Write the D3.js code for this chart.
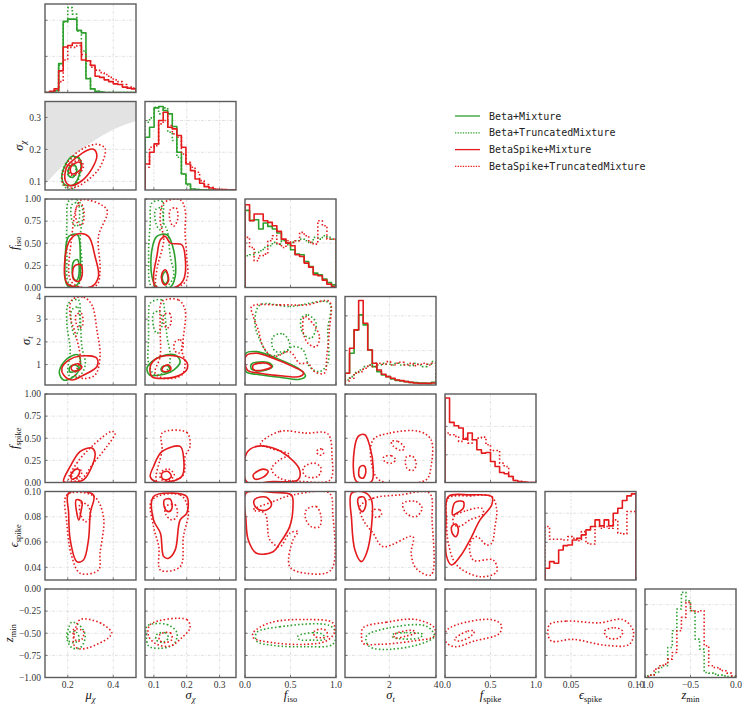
<!DOCTYPE html>
<html>
<head>
<meta charset="utf-8">
<script src="https://cdn.jsdelivr.net/npm/d3@7"></script>
<style>
  body { margin: 0; background: #fff; }
  svg text { font-family: "Liberation Serif", "DejaVu Serif", serif; }
  svg text.mono { font-family: "DejaVu Sans Mono", "Liberation Mono", monospace; }
</style>
</head>
<body>
<svg id="chart" width="747" height="708"></svg>
<script>
// ---- series ----
const seriesKeys = ['BM', 'BTM', 'BSM', 'BSTM'];
const seriesLabels = ['Beta+Mixture', 'Beta+TruncatedMixture', 'BetaSpike+Mixture', 'BetaSpike+TruncatedMixture'];
const GREEN = '#2ca02c', RED = '#e41a1c';
const seriesColor = { BM: GREEN, BTM: GREEN, BSM: RED, BSTM: RED };
const seriesDotted = { BM: false, BTM: true, BSM: false, BSTM: true };

// ---- parameters (axis domains / ticks) ----
const varDomains = [[0.1, 0.5], [0.073, 0.35], [0, 1], [0.1, 4], [0, 1], [0.03, 0.1], [-1, 0]];
const xTicks = [[0.2, 0.4], [0.1, 0.2, 0.3], [0, 0.5, 1], [2, 4], [0, 0.5, 1], [0.05, 0.1], [-1, -0.5, 0]];
const xTickLabels = [['0.2', '0.4'], ['0.1', '0.2', '0.3'], ['0.0', '0.5', '1.0'], ['2', '4'],
  ['0.0', '0.5', '1.0'], ['0.05', '0.10'], ['−1.0', '−0.5', '0.0']];
const yTicks = [[], [0.1, 0.2, 0.3], [0, 0.25, 0.5, 0.75, 1], [1, 2, 3, 4], [0, 0.25, 0.5, 0.75, 1],
  [0.04, 0.06, 0.08, 0.1], [-1, -0.75, -0.5, -0.25, 0]];
const yTickLabels = [[], ['0.1', '0.2', '0.3'], ['0.00', '0.25', '0.50', '0.75', '1.00'], ['1', '2', '3', '4'],
  ['0.00', '0.25', '0.50', '0.75', '1.00'], ['0.04', '0.06', '0.08', '0.10'],
  ['−1.00', '−0.75', '−0.50', '−0.25', '0.00']];
// label: main symbol, subscript, subscript italic?
const varLabels = [['μ', 'χ', true], ['σ', 'χ', true], ['f', 'iso', false], ['σ', 't', true],
  ['f', 'spike', false], ['ϵ', 'spike', false], ['z', 'min', false]];

// ---- histogram heights (20 bins across each domain) ----
const histMax = [2.45, 2.65, 2.65, 2.65, 2.65, 2.65, 2.65];
const diagTicks = [[1, 2], [1.13, 2.08], [1.33], [1.03, 2.07], [0.83, 1.68], [1.13, 2.0], [0.68, 1.45, 2.18]];

const hMu_BM   = [0, 0.02, 0.05, 0.8, 1.97, 2.03, 2.03, 1.72, 1.65, 0.38, 0.1, 0.03, 0.01, 0, 0, 0, 0, 0, 0, 0];
const hMu_BTM  = [0, 0.02, 0.05, 0.75, 1.95, 2.35, 2.17, 1.7, 1.15, 0.4, 0.1, 0.03, 0.01, 0, 0, 0, 0, 0, 0, 0];
const hMu_BSM  = [0, 0.03, 0.1, 0.6, 1.26, 1.3, 1.37, 1.37, 0.9, 0.88, 0.75, 0.45, 0.42, 0.35, 0.3, 0.24, 0.22, 0.15, 0.12, 0.1];
const hMu_BSTM = [0, 0.02, 0.05, 0.3, 0.9, 1.25, 1.25, 1.3, 1.05, 0.88, 0.7, 0.62, 0.55, 0.5, 0.42, 0.35, 0.3, 0.22, 0.15, 0.12];

const hSig_BM   = [1.58, 1.88, 2.46, 2.5, 2.38, 2.28, 1.9, 1.13, 0.48, 0.18, 0.03, 0.01, 0, 0, 0, 0, 0, 0, 0, 0];
const hSig_BTM  = [2.03, 2.16, 2.48, 2.28, 2.46, 1.73, 1.48, 0.98, 0.48, 0.15, 0.03, 0.01, 0, 0, 0, 0, 0, 0, 0, 0];
const hSig_BSM  = [0.78, 1.13, 1.38, 2.08, 2.33, 1.88, 1.83, 1.63, 1.28, 0.78, 0.58, 0.33, 0.2, 0.1, 0.06, 0.02, 0.01, 0.01, 0, 0];
const hSig_BSTM = [0.68, 1.28, 1.33, 1.98, 2.08, 1.93, 1.68, 1.58, 1.08, 0.83, 0.68, 0.53, 0.28, 0.16, 0.08, 0.03, 0.01, 0, 0, 0];

const hIso_BM   = [2.31, 2.01, 2.03, 1.75, 1.93, 1.83, 1.75, 1.63, 1.43, 1.33, 1.13, 1.0, 0.98, 0.78, 0.63, 0.43, 0.38, 0.25, 0.15, 0.08];
const hIso_BTM  = [0.95, 0.98, 1.05, 1.1, 1.2, 1.25, 1.35, 1.3, 1.4, 1.28, 1.35, 1.4, 1.45, 1.4, 1.35, 1.5, 1.45, 1.55, 1.5, 1.45];
const hIso_BSM  = [2.48, 2.0, 2.2, 2.2, 2.0, 1.95, 1.85, 1.68, 1.45, 1.33, 1.25, 0.98, 0.93, 0.73, 0.61, 0.38, 0.35, 0.22, 0.1, 0.03];
const hIso_BSTM = [1.5, 1.2, 0.8, 0.95, 1.0, 1.4, 1.55, 1.3, 1.2, 1.4, 1.35, 1.4, 1.65, 1.55, 1.35, 1.3, 2.0, 1.85, 1.45, 1.45];

const hSt_BM   = [0.35, 0.95, 1.65, 2.1, 1.8, 1.05, 0.55, 0.4, 0.3, 0.25, 0.18, 0.14, 0.12, 0.1, 0.08, 0.07, 0.06, 0.06, 0.05, 0.08];
const hSt_BTM  = [0.15, 0.25, 0.37, 0.45, 0.55, 0.6, 0.65, 0.6, 0.65, 0.62, 0.6, 0.65, 0.6, 0.62, 0.58, 0.65, 0.6, 0.55, 0.62, 0.7];
const hSt_BSM  = [0.35, 1.1, 1.65, 2.53, 1.85, 1.05, 0.65, 0.45, 0.32, 0.25, 0.2, 0.15, 0.13, 0.1, 0.08, 0.06, 0.05, 0.05, 0.05, 0.06];
const hSt_BSTM = [0.12, 0.2, 0.35, 0.4, 0.5, 0.6, 0.55, 0.65, 0.62, 0.7, 0.6, 0.65, 0.68, 0.6, 0.65, 0.58, 0.62, 0.65, 0.6, 0.65];

const hFs_BSM  = [2.53, 1.8, 1.7, 1.63, 1.3, 1.48, 1.28, 0.98, 0.88, 0.9, 0.63, 0.48, 0.3, 0.26, 0.18, 0.06, 0.03, 0.01, 0, 0];
const hFs_BSTM = [1.48, 1.43, 1.38, 1.23, 1.33, 1.18, 1.28, 1.33, 1.36, 1.13, 0.96, 0.96, 0.58, 0.48, 0.18, 0.06, 0.03, 0.01, 0, 0];

const hEs_BSM  = [0.35, 0.55, 0.5, 0.9, 1.03, 1.05, 1.2, 1.25, 1.35, 1.5, 1.6, 1.8, 1.62, 1.8, 1.62, 2.0, 2.15, 2.38, 2.52, 2.58];
const hEs_BSTM = [1.6, 1.22, 1.22, 1.22, 1.2, 1.3, 1.25, 1.18, 1.45, 1.1, 1.08, 1.6, 1.55, 1.6, 1.55, 1.8, 1.4, 1.38, 2.05, 2.05];

const hZ_BTM  = [0.05, 0.07, 0.15, 0.3, 0.35, 0.9, 1.4, 2.05, 2.55, 2.3, 2.0, 1.15, 0.85, 0.15, 0.13, 0.1, 0.07, 0.05, 0.03, 0.02];
const hZ_BSTM = [0.03, 0.07, 0.25, 0.35, 0.4, 0.55, 0.75, 1.4, 1.8, 2.25, 2.0, 1.97, 2.0, 0.95, 0.35, 0.3, 0.25, 0.2, 0.13, 0.05];

const histData = [
  { BM: hMu_BM, BTM: hMu_BTM, BSM: hMu_BSM, BSTM: hMu_BSTM },
  { BM: hSig_BM, BTM: hSig_BTM, BSM: hSig_BSM, BSTM: hSig_BSTM },
  { BM: hIso_BM, BTM: hIso_BTM, BSM: hIso_BSM, BSTM: hIso_BSTM },
  { BM: hSt_BM, BTM: hSt_BTM, BSM: hSt_BSM, BSTM: hSt_BSTM },
  { BSM: hFs_BSM, BSTM: hFs_BSTM },
  { BSM: hEs_BSM, BSTM: hEs_BSTM },
  { BTM: hZ_BTM, BSTM: hZ_BSTM }
];

// ---- excluded region in (mu_chi, sigma_chi) ----
const shadeMu    = [0.1, 0.15, 0.2, 0.25, 0.3, 0.35, 0.4, 0.45, 0.5];
const shadeSigma = [0.090, 0.129, 0.163, 0.194, 0.220, 0.243, 0.262, 0.277, 0.289];

// ---- credible contours: [series, [[x, y], ...]] ----
const c10 = [
  ['BM', [[.218,.178],[.255,.168],[.252,.124],[.226,.090],[.189,.089],[.174,.113],[.189,.150]]],
  ['BM', [[.208,.145],[.228,.153],[.240,.134],[.223,.113],[.204,.118]]],
  ['BTM', [[.196,.160],[.247,.176],[.255,.124],[.218,.076],[.182,.086],[.174,.123]]],
  ['BTM', [[.204,.140],[.226,.150],[.237,.129],[.214,.113],[.200,.122]]],
  ['BSM', [[.313,.2005],[.328,.182],[.306,.139],[.262,.102],[.211,.087],[.189,.103],[.196,.145],[.240,.176],[.284,.197]]],
  ['BSM', [[.218,.150],[.252,.160],[.262,.145],[.243,.129],[.218,.124],[.211,.136]]],
  ['BSTM', [[.328,.216],[.364,.203],[.342,.145],[.284,.102],[.218,.079],[.179,.094],[.182,.134],[.218,.176],[.269,.203]]],
  ['BSTM', [[.214,.155],[.255,.166],[.269,.145],[.247,.124],[.211,.121],[.204,.139]]]
];
const c20 = [
  ['BM', [[.204,.577],[.243,.596],[.255,.351],[.247,.049],[.218,.005],[.196,.03],[.189,.351]]],
  ['BM', [[.226,.294],[.243,.313],[.249,.143],[.237,.079],[.222,.125]]],
  ['BTM', [[.204,.974],[.240,.992],[.266,.879],[.255,.577],[.262,.162],[.240,.011],[.204,.049],[.196,.351],[.196,.728]]],
  ['BTM', [[.218,.936],[.243,.955],[.252,.804],[.240,.691],[.222,.728]]],
  ['BSM', [[.247,.608],[.291,.577],[.320,.351],[.335,.125],[.306,.011],[.240,.004],[.196,.049],[.189,.351],[.211,.540]]],
  ['BSM', [[.228,.238],[.258,.257],[.262,.125],[.247,.068],[.225,.094]]],
  ['BSTM', [[.262,.992],[.372,.879],[.335,.577],[.342,.2],[.328,.03],[.255,.004],[.211,.087],[.218,.577],[.240,.917]]],
  ['BSTM', [[.237,.898],[.262,.936],[.272,.804],[.262,.709],[.243,.728]]]
];
const c30 = [
  ['BM', [[.174,.98],[.211,1.35],[.247,1.42],[.255,.91],[.226,.47],[.182,.32],[.163,.62]]],
  ['BM', [[.211,.91],[.234,.98],[.249,.84],[.230,.69],[.208,.69]]],
  ['BTM', [[.204,3.71],[.247,3.85],[.255,3.12],[.262,1.79],[.277,.98],[.247,.47],[.204,.54],[.211,1.65],[.196,2.82]]],
  ['BTM', [[.218,3.41],[.243,3.53],[.252,2.82],[.233,2.23],[.218,2.67]]],
  ['BSM', [[.204,1.20],[.255,1.38],[.328,1.28],[.328,.91],[.270,.54],[.218,.32],[.182,.54],[.174,.84]]],
  ['BSM', [[.218,.94],[.247,1.03],[.262,.88],[.243,.73],[.218,.76]]],
  ['BSTM', [[.218,3.85],[.270,3.97],[.306,3.63],[.328,2.53],[.342,1.35],[.320,.54],[.270,.39],[.233,.54],[.255,1.2],[.233,2.38],[.211,3.12]]],
  ['BSTM', [[.237,3.19],[.259,3.26],[.266,2.75],[.252,2.6],[.237,2.82]]]
];
const c40 = [
  ['BSM', [[.182,.011],[.211,.181],[.255,.351],[.306,.389],[.320,.332],[.306,.181],[.269,.030],[.218,.003]]],
  ['BSM', [[.214,.087],[.237,.151],[.252,.136],[.243,.068],[.218,.038]]],
  ['BSTM', [[.204,.030],[.240,.219],[.306,.408],[.393,.577],[.408,.558],[.372,.408],[.313,.219],[.255,.030]]],
  ['BSTM', [[.218,.087],[.240,.162],[.262,.125],[.247,.049],[.222,.038]]]
];
const c50 = [
  ['BSM', [[.204,.0987],[.313,.0973],[.299,.0828],[.291,.0617],[.269,.0458],[.240,.0445],[.211,.0617],[.204,.0828]]],
  ['BSM', [[.237,.0934],[.262,.0920],[.258,.0841],[.249,.0775],[.240,.0828]]],
  ['BSTM', [[.196,.0973],[.313,.0965],[.357,.0802],[.342,.0511],[.335,.0379],[.255,.0353],[.218,.0485],[.196,.0749]]],
  ['BSTM', [[.255,.0907],[.287,.0894],[.299,.0789],[.277,.0762],[.255,.0828]]]
];
const c60 = [
  ['BTM', [[.218,-.375],[.255,-.419],[.277,-.532],[.255,-.663],[.218,-.663],[.196,-.551],[.204,-.438]]],
  ['BTM', [[.204,-.494],[.237,-.487],[.250,-.569],[.228,-.607],[.204,-.588]]],
  ['BSTM', [[.255,-.345],[.342,-.382],[.393,-.494],[.379,-.551],[.291,-.663],[.247,-.674],[.226,-.625],[.233,-.457]]],
  ['BSTM', [[.226,-.457],[.269,-.476],[.262,-.569],[.240,-.588],[.226,-.532]]]
];
const c21 = [
  ['BM', [[.109,.577],[.140,.596],[.160,.426],[.165,.125],[.150,.004],[.109,.004],[.094,.125],[.094,.426]]],
  ['BM', [[.127,.143],[.137,.181],[.143,.087],[.135,.042],[.127,.079]]],
  ['BTM', [[.094,.955],[.125,.974],[.130,.728],[.140,.653],[.150,.351],[.160,.125],[.135,.004],[.094,.004],[.084,.351],[.089,.728]]],
  ['BTM', [[.105,.879],[.122,.898],[.128,.728],[.118,.653],[.106,.728]]],
  ['BSM', [[.120,.540],[.135,.577],[.150,.502],[.185,.483],[.195,.351],[.190,.087],[.165,.004],[.104,.011],[.099,.125],[.109,.351]]],
  ['BSM', [[.125,.162],[.135,.2],[.145,.087],[.135,.030],[.125,.068]]],
  ['BSTM', [[.130,.955],[.180,.992],[.195,.879],[.195,.615],[.200,.351],[.200,.087],[.170,.004],[.109,.011],[.109,.2],[.130,.540],[.119,.766]]],
  ['BSTM', [[.150,.879],[.168,.898],[.172,.766],[.160,.691],[.150,.747]]]
];
const c31 = [
  ['BM', [[.094,1.13],[.119,1.35],[.165,1.42],[.180,1.13],[.160,.76],[.119,.54],[.087,.54],[.079,.84]]],
  ['BM', [[.124,.88],[.142,.95],[.148,.76],[.135,.67],[.123,.73]]],
  ['BTM', [[.089,3.71],[.124,3.85],[.134,3.12],[.140,2.23],[.150,1.35],[.140,.76],[.104,.54],[.084,1.06],[.084,2.23],[.084,3.12]]],
  ['BTM', [[.099,3.26],[.117,3.34],[.124,2.67],[.109,2.38],[.099,2.67]]],
  ['BSM', [[.089,.91],[.109,1.28],[.150,1.40],[.195,1.20],[.202,.84],[.180,.54],[.130,.39],[.094,.47]]],
  ['BSM', [[.129,.91],[.145,.98],[.152,.81],[.140,.69],[.125,.73]]],
  ['BSTM', [[.125,3.78],[.175,3.85],[.195,3.41],[.190,2.23],[.185,1.65],[.195,1.06],[.185,.54],[.135,.39],[.104,.62],[.119,1.35],[.119,2.82]]],
  ['BSTM', [[.130,3.19],[.148,3.26],[.152,2.82],[.140,2.6],[.130,2.82]]],
  ['BSTM', [[.165,2.01],[.180,2.09],[.190,1.87],[.175,1.5],[.162,1.65]]]
];
const c41 = [
  ['BSM', [[.099,.181],[.125,.351],[.180,.408],[.190,.294],[.185,.068],[.150,.011],[.104,.011],[.089,.068]]],
  ['BSM', [[.125,.106],[.143,.125],[.153,.068],[.138,.030],[.125,.049]]],
  ['BSTM', [[.125,.558],[.200,.566],[.210,.408],[.195,.294],[.190,.087],[.150,.011],[.109,.011],[.125,.370]]],
  ['BSTM', [[.120,.113],[.145,.151],[.162,.087],[.145,.023],[.122,.038]]]
];
const c51 = [
  ['BSM', [[.099,.096],[.160,.0987],[.200,.096],[.200,.0828],[.180,.0775],[.165,.0538],[.145,.0472],[.130,.0485],[.120,.0670],[.099,.0775]]],
  ['BSM', [[.132,.0934],[.150,.0939],[.155,.0868],[.145,.0841],[.133,.0868]]],
  ['BSTM', [[.094,.0934],[.180,.0973],[.205,.0854],[.190,.0643],[.180,.0406],[.120,.0379],[.115,.0564],[.099,.0722]]],
  ['BSTM', [[.135,.0881],[.165,.0894],[.170,.0802],[.155,.0775],[.137,.0815]]]
];
const c61 = [
  ['BTM', [[.079,-.419],[.140,-.401],[.170,-.494],[.160,-.625],[.119,-.670],[.084,-.644],[.077,-.532]]],
  ['BTM', [[.109,-.513],[.134,-.494],[.144,-.551],[.129,-.599],[.107,-.577]]],
  ['BSTM', [[.089,-.401],[.200,-.345],[.210,-.438],[.185,-.551],[.150,-.644],[.109,-.625],[.084,-.532]]],
  ['BSTM', [[.119,-.513],[.150,-.494],[.155,-.569],[.135,-.607],[.117,-.577]]]
];
const c32 = [
  ['BM', [[.011,1.50],[.127,1.57],[.345,1.28],[.582,.84],[.665,.50],[.6,.35],[.382,.44],[.127,.57],[.011,.69]]],
  ['BM', [[.073,1.03],[.255,1.09],[.302,.91],[.2,.73],[.073,.79]]],
  ['BTM', [[.164,3.63],[.491,3.56],[.927,3.71],[.909,2.53],[.909,1.06],[.818,.69],[.709,.91],[.636,1.65],[.527,1.79],[.418,1.50],[.273,1.42],[.164,2.09],[.109,2.82]]],
  ['BTM', [[.309,2.23],[.418,2.35],[.491,1.94],[.473,1.65],[.345,1.57],[.3,1.79]]],
  ['BTM', [[.618,3.04],[.691,3.19],[.782,2.82],[.727,2.16],[.636,2.38]]],
  ['BSM', [[.011,1.38],[.127,1.50],[.309,1.28],[.527,.91],[.644,.64],[.6,.47],[.418,.50],[.164,.62],[.025,.76]]],
  ['BSM', [[.091,.98],[.236,1.06],[.291,.91],[.2,.76],[.091,.79]]],
  ['BSTM', [[.073,3.56],[.382,3.63],[.673,3.63],[.927,3.78],[.927,2.53],[.898,1.35],[.873,.62],[.764,.69],[.691,1.06],[.6,1.06],[.491,1.57],[.309,1.35],[.2,1.79],[.145,2.53],[.091,3.12]]],
  ['BSTM', [[.655,3.12],[.727,2.9],[.818,2.23],[.782,1.79],[.691,1.94],[.636,2.53]]]
];
const c42 = [
  ['BSM', [[.018,.332],[.127,.408],[.309,.389],[.473,.294],[.6,.143],[.582,.030],[.309,.011],[.018,.011]]],
  ['BSM', [[.091,.087],[.2,.151],[.255,.125],[.2,.060],[.109,.038]]],
  ['BSTM', [[.171,.438],[.382,.577],[.673,.558],[.909,.551],[.956,.294],[.935,.030],[.636,.011],[.382,.049],[.291,.151],[.382,.257],[.491,.313],[.273,.389]]],
  ['BSTM', [[.8,.370],[.847,.377],[.862,.325],[.818,.309],[.789,.340]]],
  ['BSTM', [[.655,.181],[.764,.219],[.836,.162],[.8,.068],[.673,.068],[.636,.125]]]
];
const c52 = [
  ['BSM', [[.011,.0987],[.309,.0992],[.509,.0973],[.527,.0881],[.491,.0722],[.382,.0590],[.309,.0524],[.127,.0511],[.036,.0617],[.011,.0775]]],
  ['BSM', [[.109,.0939],[.236,.0955],[.291,.0894],[.236,.0854],[.145,.0860],[.098,.0902]]],
  ['BSTM', [[.091,.0854],[.309,.0920],[.527,.0973],[.927,.0987],[.964,.0828],[.945,.0379],[.673,.0353],[.491,.0406],[.527,.0617],[.582,.0683],[.491,.0670],[.382,.0564],[.273,.0617],[.218,.0828]]],
  ['BSTM', [[.673,.0854],[.782,.0881],[.836,.0802],[.818,.0722],[.727,.0722],[.665,.0789]]]
];
const c62 = [
  ['BTM', [[.127,-.494],[.382,-.427],[.927,-.412],[.995,-.494],[.964,-.625],[.673,-.652],[.309,-.637],[.127,-.588]]],
  ['BTM', [[.582,-.532],[.745,-.494],[.855,-.513],[.873,-.569],[.745,-.577],[.593,-.569]]],
  ['BSTM', [[.091,-.494],[.273,-.382],[.673,-.345],[.964,-.382],[.982,-.494],[.891,-.588],[.673,-.625],[.309,-.607],[.091,-.551]]],
  ['BSTM', [[.764,-.476],[.873,-.457],[.909,-.532],[.836,-.551],[.764,-.532]]]
];
const c43 = [
  ['BSM', [[.667,.521],[.951,.540],[1.164,.408],[1.305,.181],[1.234,.011],[.596,.011],[.455,.181]]],
  ['BSM', [[.738,.174],[.908,.189],[.993,.125],[.880,.049],[.710,.068]]],
  ['BSTM', [[1.305,.483],[2.014,.558],[3.29,.577],[3.787,.483],[3.787,.181],[3.574,.030],[1.589,.023],[1.234,.219]]],
  ['BSTM', [[2.085,.464],[2.368,.464],[2.652,.389],[2.51,.362],[2.156,.415]]],
  ['BSTM', [[1.759,.287],[2.085,.302],[2.27,.257],[2.085,.219],[1.8,.238]]],
  ['BSTM', [[2.723,.287],[3.007,.294],[3.149,.2],[3.007,.136],[2.752,.162]]]
];
const c53 = [
  ['BSM', [[.384,.0987],[.951,.0992],[1.234,.0934],[1.234,.0722],[1.022,.0511],[.809,.0445],[.525,.0538],[.384,.0775]]],
  ['BSM', [[.667,.0947],[.908,.0955],[.993,.0894],[.851,.0841],[.71,.0868]]],
  ['BSTM', [[.738,.0881],[1.305,.0947],[2.44,.0973],[3.716,.0987],[3.83,.0775],[3.787,.0340],[3.149,.0392],[2.936,.0511],[3.007,.0643],[1.73,.0564],[1.305,.0670],[.88,.0775]]],
  ['BSTM', [[2.58,.0907],[3.149,.0920],[3.404,.0868],[3.149,.0802],[2.723,.0828]]],
  ['BSTM', [[1.305,.0854],[1.589,.0854],[1.66,.0815],[1.447,.0796],[1.276,.0815]]]
];
const c63 = [
  ['BTM', [[1.022,-.532],[2.014,-.438],[3.574,-.419],[3.929,-.532],[3.29,-.625],[1.589,-.682],[1.093,-.637]]],
  ['BTM', [[2.156,-.513],[2.723,-.494],[3.433,-.513],[3.29,-.551],[2.44,-.562],[2.127,-.539]]],
  ['BSTM', [[.88,-.438],[1.873,-.375],[3.149,-.345],[3.929,-.438],[3.929,-.532],[3.007,-.588],[1.589,-.625],[.88,-.614],[.809,-.532]]],
  ['BSTM', [[2.227,-.513],[3.007,-.468],[3.12,-.494],[2.723,-.532],[2.227,-.551]]]
];
const c54 = [
  ['BSM', [[.037,.096],[.275,.0973],[.513,.096],[.513,.0894],[.385,.0775],[.275,.0617],[.165,.0485],[.073,.0419],[.018,.0485],[.011,.0775]]],
  ['BSM', [[.110,.0913],[.201,.0920],[.201,.0868],[.128,.0828],[.084,.0815]]],
  ['BSM', [[.073,.0722],[.121,.0743],[.147,.0696],[.121,.0643],[.084,.0664]]],
  ['BSTM', [[.037,.0947],[.275,.0965],[.513,.096],[.568,.0854],[.549,.0722],[.513,.0590],[.458,.0577],[.348,.0643],[.275,.0590],[.311,.0458],[.531,.0458],[.568,.0366],[.385,.0326],[.128,.0419],[.037,.0590],[.018,.0775]]],
  ['BSTM', [[.099,.0802],[.238,.0849],[.403,.0868],[.421,.0823],[.275,.0775],[.147,.0722],[.092,.0749]]]
];
const c64 = [
  ['BSTM', [[.011,-.476],[.139,-.401],[.505,-.345],[.615,-.401],[.6,-.5],[.322,-.588],[.103,-.652],[.003,-.588]]],
  ['BSTM', [[.103,-.569],[.249,-.476],[.322,-.476],[.286,-.532],[.157,-.588]]]
];
const c65 = [
  ['BSTM', [[.0336,-.401],[.0464,-.363],[.0719,-.382],[.0898,-.345],[.098,-.476],[.0949,-.625],[.0770,-.637],[.0515,-.569],[.0349,-.588],[.0324,-.513]]],
  ['BSTM', [[.0757,-.476],[.0834,-.438],[.0898,-.476],[.0872,-.551],[.0783,-.551]]]
];
const contourData = { '10': c10, '20': c20, '30': c30, '40': c40, '50': c50, '60': c60,
  '21': c21, '31': c31, '41': c41, '51': c51, '61': c61,
  '32': c32, '42': c42, '52': c52, '62': c62,
  '43': c43, '53': c53, '63': c63, '54': c54, '64': c64, '65': c65 };

// ---- layout ----
const PW = 91, PH = 88.5;
const colX = j => 45 + j * 100;
const rowY = i => 4 + i * 97.5;
const NB = 20;
const TICK_FONT = 9.5;

const svg = d3.select('#chart');
const defs = svg.append('defs');

function styleSeries(sel, key) {
  sel.attr('fill', 'none')
    .attr('stroke', seriesColor[key])
    .attr('stroke-width', 1.6)
    .attr('stroke-linejoin', 'round')
    .attr('stroke-dasharray', seriesDotted[key] ? '1.5,2.2' : null);
}

function addLabel(textSel, idx, mainSize, subSize) {
  const [m, s, sIt] = varLabels[idx];
  textSel.append('tspan').attr('font-style', 'italic').attr('font-size', mainSize).text(m);
  textSel.append('tspan').attr('font-style', sIt ? 'italic' : 'normal')
    .attr('font-size', subSize).attr('dy', 2.5).text(s);
}

const tickLabelWidth = [];

for (let i = 0; i < 7; i++) {
  for (let j = 0; j <= i; j++) {
    const x0 = colX(j), y0 = rowY(i);
    const x = d3.scaleLinear().domain(varDomains[j]).range([x0, x0 + PW]);
    const y = d3.scaleLinear().domain(i === j ? [0, histMax[i]] : varDomains[i]).range([y0 + PH, y0]);
    const g = svg.append('g');
    const cid = `clip${i}${j}`;
    defs.append('clipPath').attr('id', cid).append('rect')
      .attr('x', x0).attr('y', y0).attr('width', PW).attr('height', PH);

    // grid
    const gy = i === j ? diagTicks[i] : yTicks[i];
    g.selectAll('.gx').data(xTicks[j]).join('line')
      .attr('x1', d => x(d)).attr('x2', d => x(d)).attr('y1', y0).attr('y2', y0 + PH)
      .attr('stroke', '#d4d4d4').attr('stroke-width', 0.7).attr('stroke-dasharray', '3,1.5,1,1.5');
    g.selectAll('.gy').data(gy).join('line')
      .attr('y1', d => y(d)).attr('y2', d => y(d)).attr('x1', x0).attr('x2', x0 + PW)
      .attr('stroke', '#d4d4d4').attr('stroke-width', 0.7).attr('stroke-dasharray', '3,1.5,1,1.5');

    const body = g.append('g').attr('clip-path', `url(#${cid})`);

    if (i === 1 && j === 0) {
      const pts = shadeMu.map((m, k) => [m, shadeSigma[k]]);
      pts.push([varDomains[0][1], varDomains[1][1]], [varDomains[0][0], varDomains[1][1]]);
      body.append('path')
        .attr('d', d3.line().x(d => x(d[0])).y(d => y(d[1]))(pts) + 'Z')
        .attr('fill', '#e3e3e3');
    }

    if (i === j) {
      const dom = varDomains[i];
      const edges = d3.range(NB + 1).map(k => dom[0] + k * (dom[1] - dom[0]) / NB);
      seriesKeys.forEach(key => {
        const vals = histData[i][key];
        if (!vals) return;
        const pts = [[edges[0], 0]];
        vals.forEach((v, k) => { pts.push([edges[k], v], [edges[k + 1], v]); });
        pts.push([edges[NB], 0]);
        body.append('path')
          .attr('d', d3.line().x(d => x(d[0])).y(d => y(d[1]))(pts))
          .call(styleSeries, key);
      });
    } else {
      const line = d3.line().curve(d3.curveCatmullRomClosed.alpha(0.5))
        .x(d => x(d[0])).y(d => y(d[1]));
      const list = contourData[`${i}${j}`];
      seriesKeys.forEach(key => {
        list.filter(c => c[0] === key).forEach(c => {
          body.append('path').attr('d', line(c[1])).call(styleSeries, key);
        });
      });
    }

    // small inward ticks
    g.selectAll('.tx').data(xTicks[j]).join('line')
      .attr('x1', d => x(d)).attr('x2', d => x(d)).attr('y1', y0 + PH).attr('y2', y0 + PH - 2.5)
      .attr('stroke', '#555').attr('stroke-width', 0.8);
    g.selectAll('.ty').data(gy).join('line')
      .attr('y1', d => y(d)).attr('y2', d => y(d)).attr('x1', x0).attr('x2', x0 + 2.5)
      .attr('stroke', '#555').attr('stroke-width', 0.8);

    // spines
    g.append('rect').attr('x', x0).attr('y', y0).attr('width', PW).attr('height', PH)
      .attr('fill', 'none').attr('stroke', '#5c5c5c').attr('stroke-width', 1.4);

    // tick labels
    if (i === 6) {
      g.selectAll('.lx').data(xTicks[j]).join('text')
        .attr('x', d => x(d)).attr('y', y0 + PH + 10)
        .attr('text-anchor', 'middle').attr('font-size', TICK_FONT).attr('fill', '#333')
        .text((d, k) => xTickLabels[j][k]);
    }
    if (j === 0 && i > 0) {
      const lbls = g.selectAll('.ly').data(yTicks[i]).join('text')
        .attr('x', x0 - 4).attr('y', d => y(d) + 3.3)
        .attr('text-anchor', 'end').attr('font-size', TICK_FONT).attr('fill', '#333')
        .text((d, k) => yTickLabels[i][k]);
      tickLabelWidth[i] = d3.max(lbls.nodes(), n => n.getComputedTextLength());
    }
  }
}

// axis labels
for (let j = 0; j < 7; j++) {
  const t = svg.append('text').attr('x', colX(j) + PW / 2).attr('y', 699)
    .attr('text-anchor', 'middle').attr('fill', '#111');
  addLabel(t, j, 12.5, 8.5);
}
for (let i = 1; i < 7; i++) {
  const cy = rowY(i) + PH / 2;
  const bx = colX(0) - 4 - tickLabelWidth[i] - 6;
  const t = svg.append('text').attr('transform', `translate(${bx},${cy}) rotate(-90)`)
    .attr('text-anchor', 'middle').attr('fill', '#111');
  addLabel(t, i, 12.5, 8.5);
}

// legend
const legend = svg.append('g').attr('transform', 'translate(455,116)');
seriesKeys.forEach((key, k) => {
  const row = legend.append('g').attr('transform', `translate(0,${k * 16.8})`);
  row.append('line').attr('x1', 0).attr('x2', 25).attr('y1', 0).attr('y2', 0)
    .attr('stroke', seriesColor[key]).attr('stroke-width', 1.3)
    .attr('stroke-dasharray', seriesDotted[key] ? '1.3,1.3' : null);
  row.append('text').attr('class', 'mono').attr('x', 34).attr('y', 3.5)
    .attr('font-size', 10).attr('fill', '#222').text(seriesLabels[k]);
});
</script>
</body>
</html>
